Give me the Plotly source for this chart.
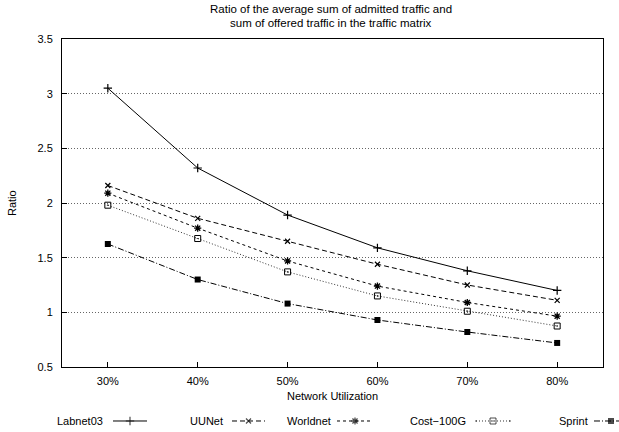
import plotly.graph_objects as go

# Network utilization levels (x) and admitted/offered traffic ratio per topology
utilization = [30, 40, 50, 60, 70, 80]
tick_labels = ["30%", "40%", "50%", "60%", "70%", "80%"]

labnet03 = [3.05, 2.32, 1.89, 1.59, 1.38, 1.20]
uunet = [2.16, 1.86, 1.65, 1.44, 1.25, 1.11]
worldnet = [2.09, 1.77, 1.47, 1.24, 1.09, 0.965]
cost100g = [1.98, 1.675, 1.37, 1.15, 1.01, 0.875]
sprint = [1.625, 1.30, 1.08, 0.93, 0.82, 0.72]

series_names = ["Labnet03", "UUNet", "Worldnet", "Cost\u2212100G", "Sprint"]
series_values = [labnet03, uunet, worldnet, cost100g, sprint]

# line / marker styling for each series
styles = [
    dict(dash="solid", color="#000000", symbol="cross-thin-open", size=6, mline=1.2),
    dict(dash="5px,3px", color="#000000", symbol="x-thin-open", size=5, mline=1.2),
    dict(dash="3px,3px", color="#000000", symbol="asterisk-open", size=6, mline=1.3),
    dict(dash="1px,2px", color="#333333", symbol="square-open-dot", size=6, mline=1),
    dict(dash="6px,2px,1px,2px", color="#000000", symbol="square", size=6, mline=0),
]

W, H = 619, 432
# plot frame in pixels
left, right, top, bottom = 62, 603, 39, 367

FONT = "Liberation Sans, Arial, Helvetica, sans-serif"

fig = go.Figure()

for name, vals, st in zip(series_names, series_values, styles):
    fig.add_trace(go.Scatter(
        x=utilization, y=vals, name=name, mode="lines+markers",
        line=dict(color=st["color"], width=1, dash=st["dash"]),
        marker=dict(symbol=st["symbol"], size=st["size"], color="#000000",
                    line=dict(color="#000000", width=st["mline"])),
        showlegend=False, xaxis="x", yaxis="y",
    ))

# legend keys drawn on a pixel-scaled strip beneath the chart: text, then sample line with marker
legend_y = 432 - 421  # strip coordinate of the legend row
legend_text_end = [105, 225, 333, 468, 590]
legend_sample = [(113, 147), (232, 265), (337, 373), (476, 510), (594, 628)]
for name, st, tx, (s0, s1) in zip(series_names, styles, legend_text_end, legend_sample):
    mid = (s0 + s1) / 2
    fig.add_trace(go.Scatter(
        x=[s0, mid, s1], y=[legend_y] * 3, mode="lines+markers",
        line=dict(color=st["color"], width=1, dash=st["dash"]),
        marker=dict(symbol=st["symbol"], size=[0, st["size"], 0], color="#000000",
                    line=dict(color="#000000", width=st["mline"])),
        showlegend=False, hoverinfo="skip", xaxis="x2", yaxis="y2", cliponaxis=False,
    ))
    fig.add_annotation(x=tx, y=legend_y, xref="x2", yref="y2", text=name,
                       showarrow=False, xanchor="right", yanchor="middle",
                       font=dict(family=FONT, size=11, color="#000000"))

strip_h = 43.2
fig.update_layout(
    width=W, height=H,
    margin=dict(l=0, r=0, t=0, b=0, autoexpand=False),
    paper_bgcolor="white", plot_bgcolor="white",
    font=dict(family=FONT, size=11, color="#000000"),
    xaxis=dict(
        domain=[left / W, right / W], anchor="y",
        range=[24.9, 85.1], tickvals=utilization, ticktext=tick_labels,
        ticks="inside", ticklen=5, tickcolor="#000000",
        showline=True, linecolor="#000000", linewidth=1, mirror=True,
        showgrid=False, zeroline=False, ticklabelstandoff=4,
        tickfont=dict(family=FONT, size=11),
    ),
    yaxis=dict(
        domain=[1 - bottom / H, 1 - top / H], anchor="x",
        range=[0.5, 3.5], tickvals=[0.5, 1, 1.5, 2, 2.5, 3, 3.5],
        ticktext=["0.5", "1", "1.5", "2", "2.5", "3", "3.5"],
        ticks="inside", ticklen=5, tickcolor="#000000",
        showline=True, linecolor="#000000", linewidth=1, mirror=True,
        showgrid=True, gridcolor="#666666", griddash="1px,2px", gridwidth=1,
        zeroline=False, ticklabelstandoff=6,
        tickfont=dict(family=FONT, size=11),
    ),
    xaxis2=dict(domain=[0, 1], anchor="y2", range=[0, W], visible=False),
    yaxis2=dict(domain=[0, strip_h / H], anchor="x2", range=[0, strip_h], visible=False),
    annotations=list(fig.layout.annotations) + [
        dict(text="Ratio of the average sum of admitted traffic and",
             x=331 / W, y=1 - 15.5 / H, xref="paper", yref="paper", xanchor="center", yanchor="bottom",
             showarrow=False, font=dict(family=FONT, size=11.5), borderpad=0),
        dict(text="sum of offered traffic in the traffic matrix",
             x=331 / W, y=1 - 15.5 / H, xref="paper", yref="paper", xanchor="center", yanchor="top",
             showarrow=False, font=dict(family=FONT, size=11.5), borderpad=0),
        dict(text="Network Utilization", x=(left + right) / 2 / W, y=1 - 396 / H,
             xref="paper", yref="paper", xanchor="center", yanchor="middle",
             showarrow=False, font=dict(family=FONT, size=11)),
        dict(text="Ratio", x=12 / W, y=1 - 203 / H, xref="paper", yref="paper",
             xanchor="center", yanchor="middle", textangle=-90,
             showarrow=False, font=dict(family=FONT, size=11)),
    ],
)

fig.write_html("out.html")
